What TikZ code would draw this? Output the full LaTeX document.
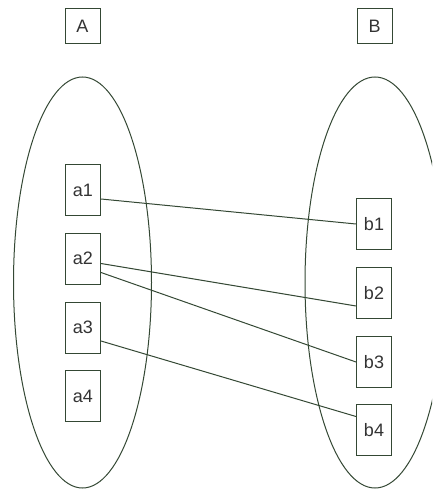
\documentclass[tikz,border=0pt]{standalone}
\usepackage{fontspec}
\setmainfont{Liberation Sans}
\definecolor{ink}{RGB}{52,72,52}
\begin{document}
\begin{tikzpicture}[x=1pt,y=-1pt,
  setbox/.style={draw=ink,line width=1pt,minimum width=35pt,minimum height=51pt,inner sep=0pt,font=\fontsize{18}{21}\selectfont,text=black!80},
  titlebox/.style={draw=ink,line width=1pt,minimum width=35pt,minimum height=35pt,inner sep=0pt,font=\fontsize{18}{21}\selectfont,text=black!80},
  setline/.style={draw=ink,line width=1pt},
  link/.style={draw=ink,line width=1pt}]
\useasboundingbox (0,0) rectangle (432,489);
\begin{scope}
\clip (0,0) rectangle (432,489);
\draw[setline] (82.5,282.5) ellipse [x radius=69, y radius=205.5];
\draw[setline] (375,282.5) ellipse [x radius=70, y radius=205.5];
\end{scope}
\node[titlebox] (A) at (82.5,26.5) {A};
\node[titlebox] (B) at (374.5,26.5) {B};
\node[setbox] (a1) at (83,190) {a1};
\node[setbox] (a2) at (83,258.5) {a2};
\node[setbox] (a3) at (83,327.5) {a3};
\node[setbox] (a4) at (83,396) {a4};
\node[setbox] (b1) at (374,224) {b1};
\node[setbox] (b2) at (374,293) {b2};
\node[setbox] (b3) at (374,362) {b3};
\node[setbox] (b4) at (374,430) {b4};
\draw[link] ([yshift=-9pt]a1.east) -- (b1.west);
\draw[link] ([yshift=-5pt]a2.east) -- ([yshift=-13pt]b2.west);
\draw[link] ([yshift=-14pt]a2.east) -- (b3.west);
\draw[link] ([yshift=-13.5pt]a3.east) -- ([yshift=13.5pt]b4.west);
\end{tikzpicture}
\end{document}
